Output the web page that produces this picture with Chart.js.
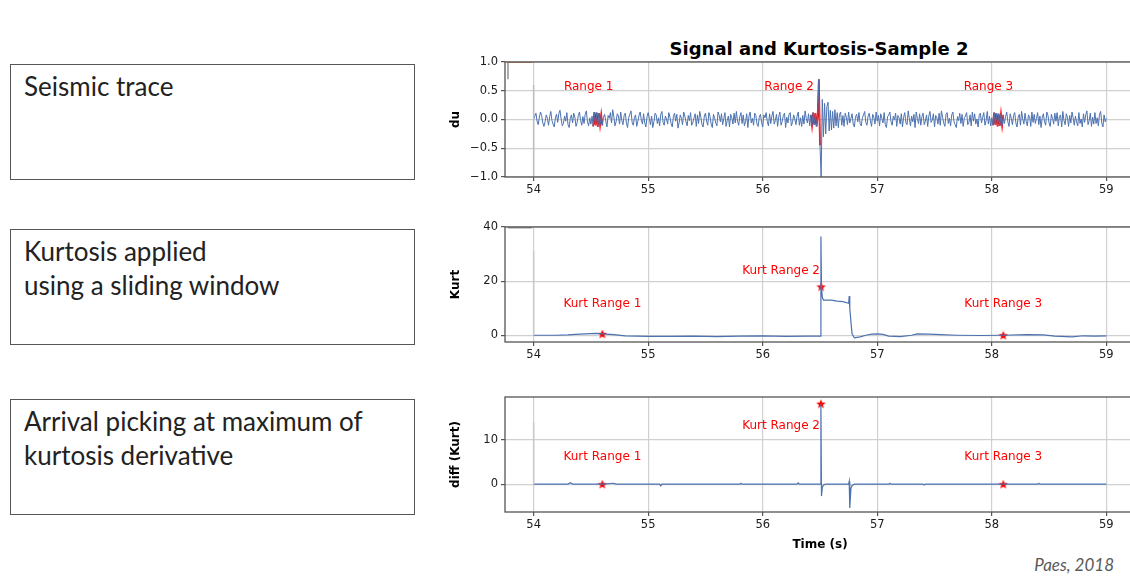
<!DOCTYPE html>
<html>
<head>
<meta charset="utf-8">
<script src="https://cdn.jsdelivr.net/npm/chart.js@4"></script>
<style>
  html, body { margin: 0; padding: 0; background: #fff; }
  #page { position: relative; width: 1130px; height: 578px; overflow: hidden; }
  .box { position: absolute; left: 10px; width: 405px; height: 116px; border: 1.5px solid #555;
         font-family: Lato, "Open Sans", sans-serif; font-size: 26px; line-height: 34px; color: #222;
         padding: 4px 0 0 13px; box-sizing: border-box; }
  .panel { position: absolute; left: 440px; }
  #title { position: absolute; top: 39px; left: 819px; transform: translateX(-50%); white-space: nowrap;
           font: bold 18px "DejaVu Sans", sans-serif; line-height: 20px; color: #000; }
  #credit { position: absolute; right: 16px; top: 554px; font: italic 17px Lato, sans-serif; color: #595959; }
</style>
</head>
<body>
<div id="page">
  <div class="box" style="top:64px">Seismic trace</div>
  <div class="box" style="top:229px">Kurtosis applied<br>using a sliding window</div>
  <div class="box" style="top:399px">Arrival picking at maximum of<br>kurtosis derivative</div>
  <div id="title">Signal and Kurtosis-Sample 2</div>
  <canvas id="sig" class="panel" style="top:52px" width="700" height="150"></canvas>
  <canvas id="kurt" class="panel" style="top:217px" width="700" height="150"></canvas>
  <canvas id="diff" class="panel" style="top:387px" width="700" height="165"></canvas>
  <div id="credit">Paes, 2018</div>
</div>
<script>
// Time axis
const xTicks = [54, 55, 56, 57, 58, 59];
const xMin = 53.75, xMax = 59.25;

// Seismic trace, sampled every 0.01 s from 54.00 s (values in hundredths of du)
const sigStart = 54.0;
const sigStep = 0.01;
const sigHundredths = [
  0, 6, 11, -3, -9, 4, 13, 7, -6, -12,
  -4, 8, 2, -10, 5, 14, -2, -8, -13, 3,
  9, -5, 10, 16, 1, -11, -7, 6, -3, 12,
  -9, -14, 2, 8, -6, 11, 4, -12, -5, 7,
  13, -2, -10, 5, -7, 9, 15, -4, -11, 3,
  -8, 6, -12, 13, -10, 12, -13, 11, -9, 8,
  -10, 4, 9, -3, -13, 7, 2, 12, -6, 17,
  5, -11, -4, 10, 6, -8, 13, -2, -9, 7,
  11, -6, -14, 3, 9, 15, -5, -10, 4, 8,
  -12, -3, 7, 13, -1, -8, 10, -6, -13, 5,
  12, 2, -9, 6, -14, -4, 11, 8, -7, 3,
  -11, 9, 14, -5, -10, 6, 1, -8, 12, 4,
  -7, -13, 5, 11, -3, 9, -15, -6, 8, 2,
  -9, 13, 6, -4, -11, 7, -2, 12, -10, -5,
  3, 10, -12, 8, -7, 14, 4, -9, -13, 6,
  11, -3, -10, 12, 5, -8, -14, 9, 2, -6,
  -11, 13, 7, -4, 10, -9, 1, 12, -12, -2,
  6, -13, 9, 3, -8, 11, -6, 14, -3, -10,
  5, 12, -7, 8, -11, -4, 10, -14, 6, 13,
  -6, 2, -10, 11, 7, -8, -12, 4, 9, -5,
  -13, 8, 3, 12, -4, -11, 10, -7, 6, 14,
  -8, -2, 9, -12, 5, 13, -10, -3, 7, 11,
  -14, 4, -6, 9, 12, -11, -5, 8, 1, -9,
  6, 13, -10, 3, -12, 7, -8, 15, 2, -6,
  10, -11, 8, -10, 12, -9, 11, -12, 6, 70,
  -45, -100, 35, -30, 28, -25, 22, 30, -20, 16,
  -18, 14, -15, 17, -11, 12, -14, 9, 13, -10,
  7, -12, 11, 4, -9, 13, -6, 2, 10, -8,
  -13, 5, 9, -4, 12, -7, -11, 3, 8, 14,
  -5, -10, 6, 11, -2, -12, 9, 4, -8, 13,
  -3, 7, -11, 10, 2, -6, 12, -9, -14, 5,
  8, 13, -4, -10, 6, -1, 11, -12, 7, 3,
  -8, 10, -13, 4, 12, -6, -9, 15, 1, -11,
  6, -4, 9, -14, 13, 2, -7, 10, -10, 5,
  11, -9, -3, 8, -12, 6, 14, -5, -1, 10,
  -13, 7, 3, -8, 11, -10, 15, 4, -6, -12,
  9, 12, -7, 2, -11, 8, 13, -4, -9, -14,
  5, -2, 11, -7, 9, -12, 3, 6, 12, -9,
  -5, 8, -11, 13, -3, 10, -8, 1, -13, 7,
  11, -6, 4, 12, -10, -2, 14, -8, 6, -11,
  3, -10, 12, -9, 11, -12, 10, -11, 9, -10,
  8, -7, 5, 13, -4, -12, 10, 2, -9, 7,
  12, -6, -13, 4, 9, -10, 14, 1, -8, 11,
  -3, -11, 8, 5, -12, 13, -5, 9, -7, 2,
  12, -9, 6, -14, 3, 10, -4, -10, 13, 7,
  -6, -12, 9, 2, -8, 11, -3, 12, -11, 5,
  8, -13, 14, -2, -9, 10, 4, -12, 7, -6,
  13, 3, -10, 6, -4, -11, 12, -7, 1, -13,
  10, -5, 8, 15, -9, -2, 11, -12, 4, -8,
  12, -7, 3, -11, 9, 14, -6, -13, 8, -4,
  2
];
// Windows highlighted in red on the trace
const redRanges = [[54.52, 54.60], [56.42, 56.50], [58.01, 58.10]];
const sigYTicks = [-1.0, -0.5, 0.0, 0.5, 1.0];

// Kurtosis (sliding window)
const kurtTimes = [54.00, 54.10, 54.20, 54.30, 54.40, 54.50, 54.55, 54.60, 54.70, 54.80, 54.90, 55.00,
  55.20, 55.40, 55.60, 55.80, 56.00, 56.20, 56.40, 56.50, 56.508, 56.513, 56.52, 56.53, 56.60, 56.65,
  56.70, 56.75, 56.755, 56.76, 56.772, 56.78, 56.80, 56.85, 56.90, 56.95, 57.00, 57.05, 57.10, 57.20,
  57.30, 57.35, 57.45, 57.55, 57.70, 57.90, 58.10, 58.30, 58.45, 58.55, 58.70, 58.80, 58.90, 59.00];
const kurtValues = [0.0, 0.0, 0.0, 0.1, 0.4, 0.6, 0.7, 0.5, 0.2, -0.2, -0.3, -0.4,
  -0.4, -0.3, -0.5, -0.3, -0.2, -0.4, -0.3, -0.3, 36.5, 18.0, 14.0, 13.0, 13.0, 12.6,
  12.4, 11.8, 14.5, 10.0, 4.0, 0.5, -1.0, -0.6, 0.0, 0.4, 0.5, 0.3, -0.3, -0.5,
  0.0, 0.5, 0.4, 0.2, 0.0, -0.1, 0.0, 0.2, 0.1, -0.3, -0.6, -0.2, -0.3, -0.2];
const kurtPicks = [[54.6, 0.5], [56.51, 18.0], [58.1, 0.0]];
const kurtYTicks = [0, 20, 40];

// Derivative of kurtosis
const diffTimes = [54.00, 54.30, 54.32, 54.34, 54.60, 54.70, 54.72, 55.10, 55.11, 55.12, 55.80, 55.81,
  55.82, 56.30, 56.31, 56.32, 56.50, 56.508, 56.513, 56.52, 56.53, 56.55, 56.75, 56.755, 56.76, 56.77,
  56.78, 56.80, 57.10, 57.11, 57.12, 57.40, 57.41, 57.42, 58.40, 58.41, 58.42, 59.00];
const diffValues = [0, 0, 0.3, 0, 0, 0.2, 0, 0, -0.4, 0, 0, 0.2,
  0, 0, 0.3, 0, 0, 18.0, -2.7, -0.8, -0.2, 0, 0, 0.6, -5.4, -1.0,
  -0.3, 0, 0, 0.2, 0, 0, -0.2, 0, 0, 0.2, 0, 0];
const diffPicks = [[54.6, 0.0], [56.508, 18.2], [58.1, 0.0]];
const diffYTicks = [0, 10];

// Red labels [text, x, y]
const sigNotes = [['Range 1', 54.48, 0.56], ['Range 2', 56.23, 0.56], ['Range 3', 57.97, 0.56]];
const kurtNotes = [['Kurt Range 1', 54.6, 11.5], ['Kurt Range 2', 56.16, 23.7], ['Kurt Range 3', 58.1, 11.5]];
const diffNotes = [['Kurt Range 1', 54.6, 6.1], ['Kurt Range 2', 56.16, 13.2], ['Kurt Range 3', 58.1, 6.1]];

// Stray marks in the top-left corner of the original figure
const sigStray = [[53.776, 1.0], [53.986, 1.0]];
const sigStrayTick = [[53.776, 1.0], [53.776, 0.7]];
const sigStart54 = [[54, 0.6], [54, -1.0]];
const kurtStray = [[53.776, 40], [53.986, 40]];
const kurtStart54 = [[54, 31], [54, 0]];
const diffStart54 = [[54, 14], [54, 0]];

const BLUE = '#4c72b0';
const RED = '#ff0000';
const FRAME = '#555555';
const GRID = '#d0d0d0';

const pts = arr => arr.map(([x, y]) => ({ x, y }));
const zip = (xs, ys) => xs.map((x, i) => ({ x, y: ys[i] }));

const sigPoints = sigHundredths.map((v, i) => ({ x: sigStart + i * sigStep, y: v / 100 }));
const redPoints = [];
redRanges.forEach(([a, b]) => {
  sigPoints.filter(p => p.x >= a - 1e-9 && p.x <= b + 1e-9).forEach(p => redPoints.push(p));
  redPoints.push({ x: b + 0.001, y: null });
});

function makeStar(size, color) {
  const c = document.createElement('canvas');
  c.width = c.height = size;
  const ctx = c.getContext('2d');
  ctx.beginPath();
  for (let i = 0; i < 10; i++) {
    const r = i % 2 ? size * 0.21 : size * 0.5;
    const a = -Math.PI / 2 + i * Math.PI / 5;
    ctx.lineTo(size / 2 + r * Math.cos(a), size / 2 + 0.5 + r * Math.sin(a));
  }
  ctx.closePath();
  ctx.fillStyle = color;
  ctx.fill();
  return c;
}
const star = makeStar(10, RED);

// Frame round the plot area
const framePlugin = {
  id: 'frame',
  afterDatasetsDraw(chart) {
    const { ctx, chartArea: a } = chart;
    ctx.save();
    ctx.strokeStyle = FRAME;
    ctx.lineWidth = 1.3;
    ctx.strokeRect(a.left, a.top, a.right - a.left, a.bottom - a.top);
    ctx.restore();
  }
};

// Red text at data coordinates
const notesPlugin = {
  id: 'notes',
  afterDatasetsDraw(chart, args, opts) {
    const { ctx, scales: { x, y } } = chart;
    ctx.save();
    ctx.font = '12px "DejaVu Sans"';
    ctx.fillStyle = RED;
    ctx.textAlign = 'center';
    ctx.textBaseline = 'middle';
    (opts.items || []).forEach(([t, vx, vy]) => ctx.fillText(t, x.getPixelForValue(vx), y.getPixelForValue(vy)));
    ctx.restore();
  }
};

function line(data, color, width) {
  return { data, borderColor: color, borderWidth: width, pointRadius: 0, showLine: true, fill: false, spanGaps: false };
}
function picks(data) {
  return { data: pts(data), showLine: false, pointStyle: star, pointRadius: 5, borderWidth: 0 };
}

function makePanel(id, cfg) {
  const xAxisHeight = cfg.xTitle ? 40 : 25;
  return new Chart(document.getElementById(id), {
    type: 'scatter',
    data: { datasets: cfg.datasets },
    plugins: [framePlugin, notesPlugin],
    options: {
      responsive: false,
      animation: false,
      layout: { padding: { top: 10, right: 5, bottom: 0, left: 0 } },
      plugins: { legend: { display: false }, tooltip: { enabled: false }, notes: { items: cfg.notes } },
      scales: {
        x: {
          type: 'linear', min: xMin, max: xMax,
          afterBuildTicks: s => { s.ticks = xTicks.map(v => ({ value: v })); },
          afterFit: s => { s.height = xAxisHeight; },
          ticks: { font: { family: 'DejaVu Sans', size: 11.5 }, color: '#1a1a1a', padding: 2, maxRotation: 0, callback: v => String(v) },
          grid: { color: GRID, lineWidth: 1.2, tickColor: FRAME, tickLength: 4 },
          border: { display: false },
          title: { display: !!cfg.xTitle, text: cfg.xTitle, font: { family: 'DejaVu Sans', size: 12, weight: 'bold' }, color: '#000', padding: { top: 2, bottom: 0 } }
        },
        y: {
          type: 'linear', min: cfg.yMin, max: cfg.yMax,
          afterBuildTicks: s => { s.ticks = cfg.yTicks.map(v => ({ value: v })); },
          afterFit: s => { s.width = 65; },
          ticks: { font: { family: 'DejaVu Sans', size: 11.5 }, color: '#1a1a1a', padding: 3, callback: cfg.yFmt },
          grid: { color: GRID, lineWidth: 1.2, tickColor: FRAME, tickLength: 4 },
          border: { display: false },
          title: { display: true, text: cfg.yTitle, font: { family: 'DejaVu Sans', size: 12, weight: 'bold' }, color: '#000', padding: { top: 9, bottom: 0 } }
        }
      }
    }
  });
}

const oneDecimal = v => (v < 0 ? '\u2212' : '') + Math.abs(v).toFixed(1);
const integer = v => (v < 0 ? '\u2212' : '') + Math.abs(v);

makePanel('sig', {
  yMin: -1.0, yMax: 1.0, yTicks: sigYTicks, yFmt: oneDecimal, yTitle: 'du', notes: sigNotes,
  datasets: [
    line(pts(sigStart54), '#bdbdbd', 1.5),
    line(pts(sigStray), '#dd8452', 2),
    line(pts(sigStrayTick), '#777777', 1.2),
    line(sigPoints, BLUE, 1),
    line(redPoints, RED, 1.8)
  ]
});

makePanel('kurt', {
  yMin: -2.5, yMax: 40, yTicks: kurtYTicks, yFmt: integer, yTitle: 'Kurt', notes: kurtNotes,
  datasets: [
    line(pts(kurtStart54), '#c8c8c8', 1.5),
    line(pts(kurtStray), '#9a9a9a', 3),
    line(zip(kurtTimes, kurtValues), BLUE, 1.2),
    picks(kurtPicks)
  ]
});

makePanel('diff', {
  yMin: -6.3, yMax: 19.7, yTicks: diffYTicks, yFmt: integer, yTitle: 'diff (Kurt)', xTitle: 'Time (s)', notes: diffNotes,
  datasets: [
    line(pts(diffStart54), '#c8c8c8', 1.5),
    line(zip(diffTimes, diffValues), BLUE, 1.2),
    picks(diffPicks)
  ]
});
</script>
</body>
</html>
